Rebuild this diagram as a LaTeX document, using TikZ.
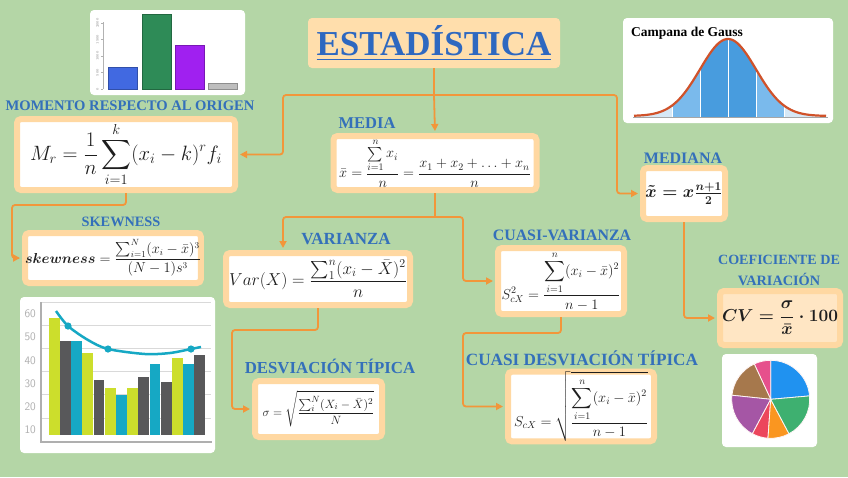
\documentclass[tikz,border=0pt]{standalone}
\usepackage{amsmath}
\usepackage[no-math]{fontspec}
\newfontfamily\headfont{Liberation Serif}
\usetikzlibrary{arrows.meta,positioning}

\definecolor{bggreen}{RGB}{180,214,166}
\definecolor{headblue}{RGB}{52,112,186}
\definecolor{titleblue}{RGB}{46,104,192}
\definecolor{linkorange}{RGB}{242,150,58}
\definecolor{frameorange}{RGB}{255,216,162}
\definecolor{titlefill}{RGB}{255,222,172}
\definecolor{cvfill}{RGB}{255,230,196}
\definecolor{formulaink}{RGB}{30,30,30}
\definecolor{barblue}{RGB}{65,105,225}
\definecolor{bargreen}{RGB}{46,139,87}
\definecolor{barpurple}{RGB}{160,32,240}
\definecolor{bargray}{RGB}{190,190,190}
\definecolor{gausspale}{RGB}{214,232,246}
\definecolor{gausslight}{RGB}{122,186,236}
\definecolor{gaussdark}{RGB}{72,156,222}
\definecolor{gaussred}{RGB}{208,82,42}
\definecolor{chartlime}{RGB}{204,222,44}
\definecolor{chartgray}{RGB}{88,88,90}
\definecolor{chartteal}{RGB}{22,168,196}
\definecolor{chartaxis}{RGB}{175,175,175}
\definecolor{pieblue}{RGB}{32,146,240}
\definecolor{piepink}{RGB}{230,80,140}
\definecolor{piebrown}{RGB}{166,120,76}
\definecolor{piepurple}{RGB}{165,86,165}
\definecolor{piered}{RGB}{236,70,92}
\definecolor{pieorange}{RGB}{250,150,32}
\definecolor{piegreen}{RGB}{62,176,112}

\begin{document}
\begin{tikzpicture}[x=1pt, y=-1pt,
  formbox/.style={draw=frameorange, line width=6pt, fill=white, rounded corners=4pt,
    inner sep=0pt, text=formulaink},
  heading/.style={font=\headfont\bfseries\fontsize{16.5}{18}\selectfont, text=headblue,
    anchor=base, inner sep=0pt},
  subheading/.style={heading, font=\headfont\bfseries\fontsize{14.3}{16}\selectfont},
  link/.style={draw=linkorange, line width=1.8pt, rounded corners=3pt},
  arrowlink/.style={link, -{Triangle[length=7pt,width=7pt]}, shorten >=2pt},
  card/.style={fill=white, rounded corners=4pt}
]
  \useasboundingbox (0,0) rectangle (848,477);
  \fill[bggreen] (0,0) rectangle (848,477);

  % title
  \node[fill=titlefill, rounded corners=4pt, minimum width=252pt, minimum height=50pt,
    inner sep=0pt, text=titleblue, font=\headfont\bfseries\fontsize{35}{40}\selectfont]
    (title) at (434,43) {\underline{ESTADÍSTICA}};

  % connectors
  \coordinate (hub) at (434,95);
  \coordinate (mhub) at (435,217);
  \coordinate (lturn) at (283,95);
  \coordinate (rturn) at (617,95);
  \coordinate (cturn) at (463,217);

  % formula boxes
  \node[formbox, minimum width=218pt, minimum height=71pt, font=\fontsize{21.5}{23}\selectfont]
    (moment) at (126,154.5) {$\displaystyle M_r=\frac{1}{n}\sum_{i=1}^{k}(x_i-k)^r f_i$};
  \node[formbox, minimum width=203pt, minimum height=54pt, font=\fontsize{14}{16}\selectfont]
    (media) at (435,163) {$\displaystyle \bar{x}=\frac{\sum\limits_{i=1}^{n}x_i}{n}=\frac{x_1+x_2+\ldots+x_n}{n}$};
  \node[formbox, minimum width=82pt, minimum height=51pt, font=\fontsize{18}{20}\selectfont]
    (mediana) at (684,193.5) {$\boldsymbol{\tilde{x}=x\tfrac{n+1}{2}}$};
  \node[formbox, minimum width=167pt, minimum height=50pt, font=\fontsize{13.5}{15}\selectfont]
    (skew) at (113,258) {$\displaystyle \boldsymbol{skewness}=\frac{\sum_{i=1}^{N}(x_i-\bar{x})^3}{(N-1)s^3}$};
  \node[formbox, minimum width=184pt, minimum height=52pt, font=\fontsize{17}{19}\selectfont]
    (var) at (318,279) {$\displaystyle Var(X)=\frac{\sum_{1}^{n}(x_i-\bar{X})^2}{n}$};
  \node[formbox, minimum width=126pt, minimum height=66pt, font=\fontsize{14}{16}\selectfont]
    (cvar) at (561,281) {$\displaystyle S_{cX}^{2}=\frac{\displaystyle\sum_{i=1}^{n}(x_i-\bar{x})^2}{n-1}$};
  \node[formbox, fill=cvfill, minimum width=120pt, minimum height=54pt, font=\fontsize{17}{19}\selectfont]
    (cv) at (780,318) {$\displaystyle \boldsymbol{CV=\frac{\sigma}{\bar{x}}\cdot 100}$};
  \node[formbox, minimum width=127pt, minimum height=56pt, font=\fontsize{12.5}{14}\selectfont]
    (desv) at (318.5,409) {$\displaystyle \sigma=\sqrt{\frac{\sum_{i}^{N}(X_i-\bar{X})^2}{N}}$};
  \node[formbox, minimum width=146pt, minimum height=67pt, font=\fontsize{14}{16}\selectfont]
    (cdesv) at (581,406.5) {$\displaystyle S_{cX}=\sqrt{\frac{\displaystyle\sum_{i=1}^{n}(x_i-\bar{x})^2}{n-1}}$};

  \draw[link] (title.south) -- (hub);
  \draw[arrowlink] (hub) -- (lturn) |- (moment.east);
  \draw[arrowlink] (hub) -- (rturn) |- (mediana.west);
  \draw[arrowlink] (hub) -- (media.north);
  \draw[link] (media.south) -- (mhub);
  \draw[arrowlink] (mhub) -| ([xshift=-35pt]var.north);
  \draw[arrowlink] (mhub) -- (cturn) |- (cvar.west);
  \draw[arrowlink] (moment.south) |- (12,205) |- (skew.west);
  \draw[arrowlink] (var.south) |- (232,330) |- (desv.west);
  \draw[arrowlink] (cvar.south) |- (463,333) |- (cdesv.west);
  \draw[arrowlink] (mediana.south) |- (cv.west);

  % labels
  \node[subheading, font=\headfont\bfseries\fontsize{14.6}{16}\selectfont] (lmoment) at (130,110) {MOMENTO RESPECTO AL ORIGEN};
  \node[heading] (lmedia) at (367,128) {MEDIA};
  \node[heading, font=\headfont\bfseries\fontsize{16}{18}\selectfont] (lmediana) at (683,163) {MEDIANA};
  \node[subheading] (lskew) at (121,226) {SKEWNESS};
  \node[heading, font=\headfont\bfseries\fontsize{17}{18}\selectfont] (lvar) at (346,244) {VARIANZA};
  \node[heading, font=\headfont\bfseries\fontsize{15.9}{18}\selectfont] (lcvar) at (562,240) {CUASI-VARIANZA};
  \node[subheading, font=\headfont\bfseries\fontsize{14.1}{16}\selectfont] (lcoef) at (779,264) {COEFICIENTE DE};
  \node[subheading] (lvariac) at (779,285) {VARIACIÓN};
  \node[heading, font=\headfont\bfseries\fontsize{16.8}{18}\selectfont] (ldesv) at (330,373) {DESVIACIÓN TÍPICA};
  \node[heading, font=\headfont\bfseries\fontsize{17.2}{18}\selectfont] (lcdesv) at (582,365) {CUASI DESVIACIÓN TÍPICA};

  % bar chart, top left
  \fill[card] (90,10) rectangle (245,95);
  \draw[gray!60, line width=0.4pt] (103,22) -- (103,89);
  \foreach \yy/\lab in {89/0, 72.5/500, 56/1000, 39.5/1500, 23/2000} {
    \draw[gray!60, line width=0.4pt] (101,\yy) -- (103,\yy);
    \node[font=\fontsize{3.5}{4}\selectfont, text=gray, rotate=90, anchor=south, inner sep=0.5pt]
      at (99.5,\yy) {\lab};
  }
  \foreach \xa/\tp/\col in {108/67/barblue, 142/14/bargreen, 175/45/barpurple, 208/83/bargray}
    \filldraw[fill=\col, draw=\col!75!black, line width=0.4pt] (\xa,\tp) rectangle ({\xa+29},89);

  % bell curve, top right
  \fill[card] (623,18) rectangle (833,123);
  \node[font=\headfont\bfseries\fontsize{13.5}{15}\selectfont, anchor=base west, inner sep=0pt]
    (gausstitle) at (631,36) {Campana de Gauss};
  \fill[gausspale] plot[domain=634:826, samples=90] (\x,{117-77*exp(-((\x-728)/28)^2/2)})
    -- (826,117) -- (634,117) -- cycle;
  \fill[gausslight] plot[domain=672:784, samples=60] (\x,{117-77*exp(-((\x-728)/28)^2/2)})
    -- (784,117) -- (672,117) -- cycle;
  \fill[gaussdark] plot[domain=700:756, samples=40] (\x,{117-77*exp(-((\x-728)/28)^2/2)})
    -- (756,117) -- (700,117) -- cycle;
  \foreach \xv in {672,700,728,756,784}
    \draw[white, line width=1pt] (\xv,117) -- (\xv,{117-77*exp(-((\xv-728)/28)^2/2)});
  \draw[gray!70, line width=1pt] (633,117) -- (828,117);
  \draw[gaussred, line width=2.2pt] plot[domain=634:826, samples=90]
    (\x,{116-77*exp(-((\x-728)/28)^2/2)});

  % column chart, bottom left
  \fill[card] (20,297) rectangle (215,453);
  \foreach \k in {0,...,5}
    \draw[gray!30, line width=0.8pt] (41,{302+23.2*\k}) -- (211,{302+23.2*\k});
  \foreach \v [count=\k from 0] in {60,50,...,10}
    \node[font=\sffamily\fontsize{11.5}{12}\selectfont, text=chartaxis, anchor=east, inner sep=0pt]
      at (36,{314+23.2*\k}) {\v};
  \foreach \tp/\col [count=\i from 0] in {318/chartlime, 341/chartgray, 341/chartteal, 353/chartlime,
      380/chartgray, 388/chartlime, 395/chartteal, 388/chartlime, 377/chartgray, 364/chartteal,
      382/chartgray, 358/chartlime, 364/chartteal, 355/chartgray}
    \fill[\col] ({48.7+11.2*\i},\tp) rectangle ({59.5+11.2*\i},435);
  \draw[chartaxis, line width=1.4pt] (41,302) -- (41,442) -- (212,442);
  \draw[chartteal, line width=2.5pt] plot[smooth] coordinates
    {(56,311) (68,326) (88,340) (108,349) (145,354) (170,353) (191,349) (201,347)};
  \foreach \px/\py in {68/326, 108/349, 191/349}
    \fill[chartteal] (\px,\py) circle (3.6pt);

  % pie chart, bottom right
  \fill[card] (722,354) rectangle (817,447);
  \begin{scope}[shift={(770.7,399.3)}, x=1pt, y=1pt]
    \foreach \a/\b/\col in {5/90/pieblue, 90/115/piepink, 115/174/piebrown, 174/242/piepurple,
        242/266/piered, 266/298/pieorange, 298/365/piegreen}
      \filldraw[fill=\col, draw=white!85!pink, line width=0.8pt] (0,0) -- (\a:39pt)
        arc[start angle=\a, end angle=\b, radius=39pt] -- cycle;
  \end{scope}
\end{tikzpicture}
\end{document}
